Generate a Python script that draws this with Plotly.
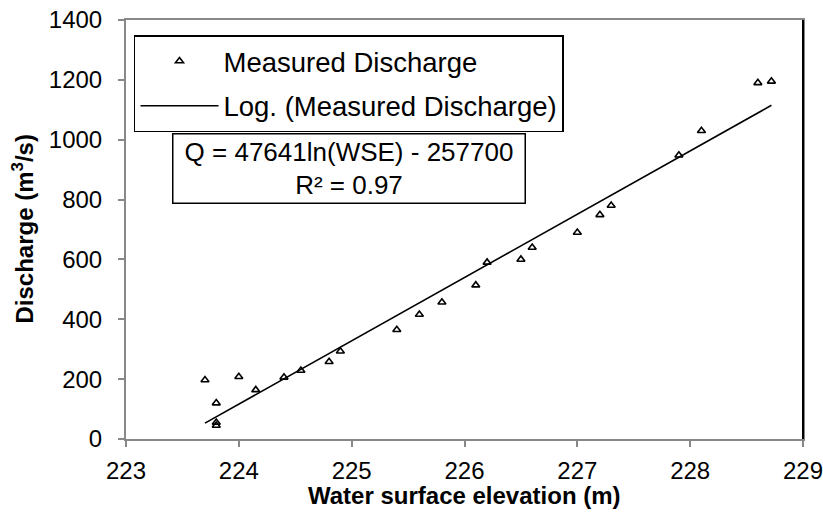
import plotly.graph_objects as go

wse = [223.7, 223.8, 223.8, 223.8, 224.0, 224.15, 224.4, 224.55, 224.8, 224.9,
       225.4, 225.6, 225.8, 226.1, 226.2, 226.5, 226.6, 227.0, 227.2, 227.3,
       227.9, 228.1, 228.6, 228.72]
discharge = [197, 120, 55, 45, 208, 164, 206, 229, 258, 293,
             365, 416, 457, 514, 590, 600, 640, 690, 749, 780,
             948, 1030, 1190, 1195]

# Logarithmic trendline
trend_x = [223.7, 223.95, 224.2, 224.45, 224.7, 224.95, 225.2, 225.45, 225.7, 225.95,
           226.2, 226.45, 226.7, 226.95, 227.2, 227.45, 227.7, 227.95, 228.2, 228.45, 228.72]
trend_y = [53, 106, 159, 212, 265, 318, 371, 424, 477, 530,
           583, 636, 689, 742, 794, 847, 900, 953, 1005, 1058, 1115]

x_ticks = [223, 224, 225, 226, 227, 228, 229]
y_ticks = [0, 200, 400, 600, 800, 1000, 1200, 1400]

FONT = "Liberation Sans, Arial, sans-serif"

fig = go.Figure()
fig.add_trace(go.Scatter(
    x=wse, y=discharge, mode="markers", name="Measured Discharge",
    legendgroup="a",
    marker=dict(symbol="triangle-up-open", size=7, color="black",
                line=dict(color="black", width=1.6)),
))
fig.add_trace(go.Scatter(
    x=trend_x, y=trend_y, mode="lines", name="Log. (Measured Discharge)",
    legendgroup="b",
    line=dict(color="black", width=1.6),
))

axis_common = dict(
    showgrid=False, zeroline=False, showline=True, mirror=True,
    linecolor="#888888", linewidth=2, automargin=False,
    ticks="outside", ticklen=6, tickcolor="#888888", tickwidth=1.5,
    ticklabeloverflow="allow",
    tickfont=dict(family=FONT, size=24, color="black"),
)

fig.update_layout(
    width=823, height=515,
    margin=dict(l=126, r=20, t=20, b=76, autoexpand=False),
    paper_bgcolor="white", plot_bgcolor="white",
    font=dict(family=FONT, color="black"),
    showlegend=True,
    legend=dict(
        x=0.0118, y=0.964, xanchor="left", yanchor="top",
        bgcolor="white", bordercolor="black", borderwidth=1.5,
        font=dict(family=FONT, size=27.5, color="black"),
        tracegroupgap=6, itemwidth=78,
    ),
    xaxis=dict(range=[223, 229], tickvals=x_ticks,
               ticktext=[str(v) for v in x_ticks],
               ticklabelstandoff=3,
               **axis_common),
    yaxis=dict(range=[0, 1400], tickvals=y_ticks,
               ticktext=[str(v) for v in y_ticks],
               ticklabelstandoff=11,
               **axis_common),
    shapes=[dict(type="line", xref="paper", yref="paper", x0=1, x1=1, y0=0, y1=1,
                 line=dict(color="black", width=2))],
    annotations=[
        dict(
            xref="paper", yref="paper", x=0.3287, y=0.6456,
            xanchor="center", yanchor="middle",
            text="Q = 47641ln(WSE) - 257700<br>R² = 0.97",
            showarrow=False, align="center",
            font=dict(family=FONT, size=26, color="black"),
            bordercolor="black", borderwidth=1.5, borderpad=3,
            bgcolor="white", width=345, height=62,
        ),
        dict(
            xref="paper", yref="paper", x=0.5, y=-0.136,
            xanchor="center", yanchor="middle",
            text="<b>Water surface elevation (m)</b>", showarrow=False,
            font=dict(family=FONT, size=24, color="black"),
        ),
        dict(
            xref="paper", yref="paper", x=-0.1536, y=0.5,
            xanchor="center", yanchor="middle", textangle=-90,
            text="<b>Discharge (m<sup>3</sup>/s)</b>", showarrow=False,
            font=dict(family=FONT, size=24, color="black"),
        ),
    ],
)

fig.write_html(
    "out.html",
    config={"displayModeBar": False},
    post_script="document.documentElement.style.margin='0';"
                "document.body.style.margin='0';"
                "document.body.style.overflow='hidden';",
)
